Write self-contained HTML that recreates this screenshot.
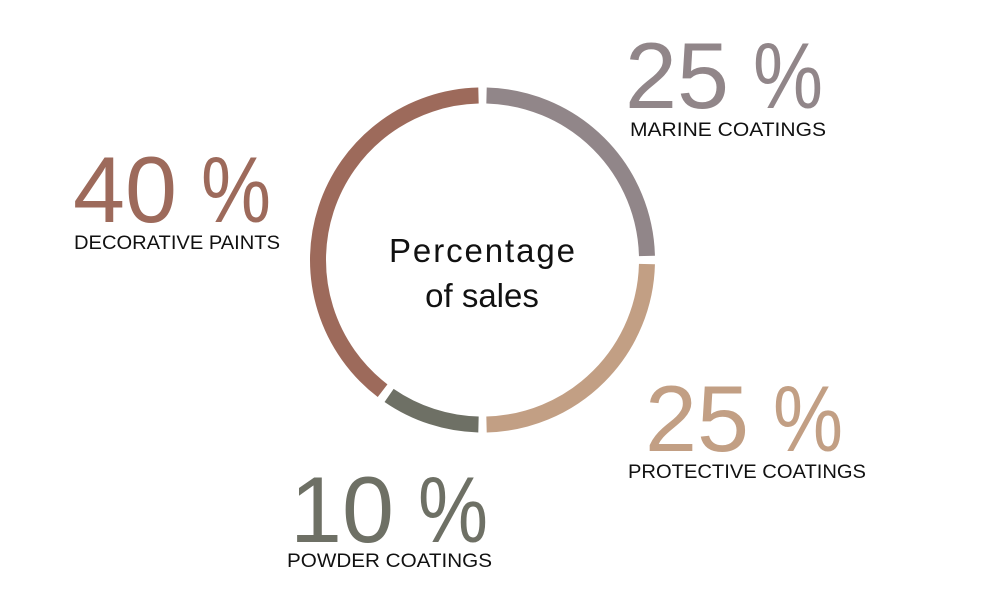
<!DOCTYPE html>
<html><head><meta charset="utf-8"><style>
html,body{margin:0;padding:0;background:#fff;}
svg{display:block;font-family:"Liberation Sans","DejaVu Sans",sans-serif;}
</style></head><body>
<svg id="chart" width="981" height="591" viewBox="0 0 981 591" xmlns="http://www.w3.org/2000/svg">
<g id="ring"></g>
<text x="482" y="262" font-size="33" text-anchor="middle" fill="#111" textLength="186">Percentage</text>
<text x="482" y="307" font-size="33" text-anchor="middle" fill="#111">of sales</text>
<g id="labels"></g>
</svg>
<script>
const categories = ["MARINE COATINGS","PROTECTIVE COATINGS","POWDER COATINGS","DECORATIVE PAINTS"];
const values = [25,25,10,40];
const colors = ["#918689","#c29f84","#6e7065","#9d6a5b"];
const NS="http://www.w3.org/2000/svg";
const cx=482.5, cy=260, r=164.5, gapDeg=2.8;
const total=values.reduce((a,b)=>a+b,0);
function pt(deg){const a=deg*Math.PI/180;return [cx+r*Math.sin(a), cy-r*Math.cos(a)];}
const ring=document.getElementById('ring');
let acc=0;
const mids=[];
values.forEach((v,i)=>{
  const s=acc/total*360+gapDeg/2, e=(acc+v)/total*360-gapDeg/2;
  mids.push((acc+v/2)/total*360);
  acc+=v;
  const [x1,y1]=pt(s),[x2,y2]=pt(e);
  const p=document.createElementNS(NS,'path');
  p.setAttribute('d',`M${x1} ${y1} A${r} ${r} 0 ${e-s>180?1:0} 1 ${x2} ${y2}`);
  p.setAttribute('fill','none');p.setAttribute('stroke',colors[i]);p.setAttribute('stroke-width','16');
  
  
  ring.appendChild(p);
});
// label layout (positions, not data)
const pos=[{x:625,y:108,lx:630,ly:136,lw:196},{x:645,y:451,lx:628,ly:478,lw:238},{x:290,y:542,lx:287,ly:567,lw:205},{x:73,y:222,lx:74,ly:249,lw:206}];
const lg=document.getElementById('labels');
categories.forEach((c,i)=>{
  const P=pos[i];
  const g=document.createElementNS(NS,'g');
  
  
  const n=document.createElementNS(NS,'text');
  n.setAttribute('x',P.x);n.setAttribute('y',P.y);n.setAttribute('font-size','94');n.setAttribute('fill',colors[i]);
  n.setAttribute('textLength','104');n.setAttribute('lengthAdjust','spacingAndGlyphs');
  n.textContent=String(values[i]);
  
  
  const pc=document.createElementNS(NS,'text');
  pc.setAttribute('x',P.x+128);pc.setAttribute('y',P.y);pc.setAttribute('font-size','94');pc.setAttribute('fill',colors[i]);
  pc.setAttribute('textLength','70');pc.setAttribute('lengthAdjust','spacingAndGlyphs');
  pc.textContent='%';
  
  
  const l=document.createElementNS(NS,'text');
  l.setAttribute('x',P.lx);l.setAttribute('y',P.ly);l.setAttribute('font-size','19');l.setAttribute('fill','#111');
  l.setAttribute('textLength',P.lw);l.setAttribute('lengthAdjust','spacingAndGlyphs');
  l.textContent=c;
  
  
  g.appendChild(n);g.appendChild(pc);g.appendChild(l);lg.appendChild(g);
});
</script>
</body></html>
